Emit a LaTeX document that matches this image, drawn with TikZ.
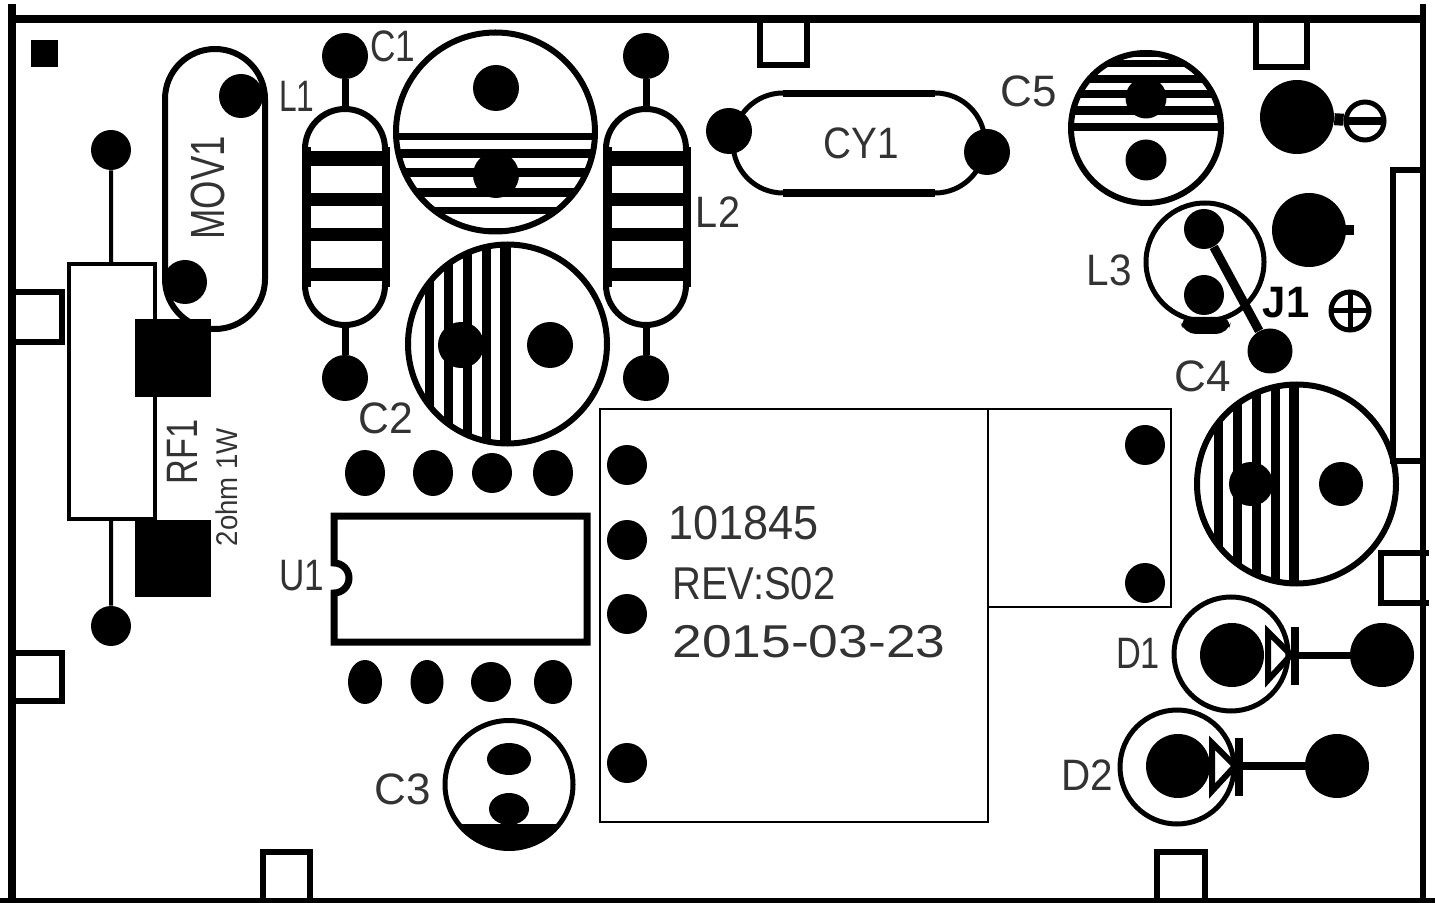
\documentclass[tikz,border=0pt]{standalone}
\usepackage{fontspec}
\setmainfont{Liberation Sans}
\usetikzlibrary{shapes.geometric}
\tikzset{
  pad/.style={circle,fill=black,inner sep=0pt,minimum size=#1 pt},
  oval/.style 2 args={ellipse,fill=black,inner sep=0pt,minimum width=#1 pt,minimum height=#2 pt},
  ring/.style 2 args={circle,draw=black,line width=#2*0.5pt,inner sep=0pt,minimum size=#1 pt},
  stadium/.style n args={4}{rectangle,draw=black,line width=#4*0.5pt,inner sep=0pt,rounded corners=#3 pt,minimum width=#1 pt,minimum height=#2 pt},
  lab/.style n args={2}{font=\fontsize{#1}{#1}\selectfont,xscale=#2,transform shape,inner sep=0pt,text=black!80},
  wall/.style={draw=black,line width=3.4pt,line join=miter},
  lead/.style={draw=black,line width=#1*0.5pt},
  thinbox/.style={draw=black,line width=1pt,inner sep=0pt},
}
\begin{document}
\begin{tikzpicture}[x=0.5pt,y=-0.5pt]
\useasboundingbox (0,0) rectangle (1435,903);
% frame
\fill (8,15) rectangle (1426,23);
\fill (8,4) rectangle (16,903);
\fill (1420,4) rectangle (1426,903);
\fill (0,898) rectangle (1435,903);
% tabs
\draw[wall] (760,23) -- (760,65) -- (807,65) -- (807,23);
\draw[wall] (1256,23) -- (1256,67) -- (1307,67) -- (1307,23);
\draw[wall] (16,292) -- (62,292) -- (62,342) -- (16,342);
\draw[wall] (16,653) -- (62,653) -- (62,701) -- (16,701);
\draw[wall] (263,898) -- (263,852) -- (310,852) -- (310,898);
\draw[wall] (1157,898) -- (1157,852) -- (1205,852) -- (1205,898);
\draw[wall] (1420,170) -- (1393,170) -- (1393,461) -- (1420,461);
\draw[wall] (1429,553) -- (1381,553) -- (1381,603) -- (1429,603);
% corner mark
\node[rectangle,fill=black,inner sep=0pt,minimum size=13.5pt] (mark) at (44.5,54) {};
% MOV1
\node[stadium={50}{140}{25}{6}] (mov) at (215,189) {};
\node[pad=22] (movA) at (241,96) {};
\node[pad=22] (movB) at (185,282) {};
\node[rotate=90,lab={24}{0.76}] (movT) at (208,188) {MOV1};
% RF1
\node[pad=20] (rfA) at (111,150) {};
\node[pad=20] (rfB) at (111,626) {};
\node[rectangle,draw=black,line width=2pt,fill=white,inner sep=0pt,minimum width=43pt,minimum height=127pt] (rf) at (111.5,391.5) {};
\draw[lead=4] (rfA) -- (rf);
\draw[lead=4] (rfB) -- (rf);
\node[rectangle,fill=black,inner sep=0pt,minimum width=38pt,minimum height=39pt] (rfP1) at (173,358) {};
\node[rectangle,fill=black,inner sep=0pt,minimum width=38pt,minimum height=38.5pt] (rfP2) at (173,558.5) {};
\node[rotate=90,lab={22}{0.78}] (rfT) at (182,452) {RF1};
\node[rotate=90,lab={15}{0.92}] (rfV) at (227,487) {2ohm 1W};
% L1, L2
\foreach \n/\x in {la/345,lb/646}{
  \node[pad=23] (\n A) at (\x,56) {};
  \node[pad=23] (\n B) at (\x,378) {};
  \node[stadium={40}{108}{20}{6}] (\n) at (\x,217) {};
  \draw[lead=7] (\n A) -- (\n);
  \draw[lead=7] (\n B) -- (\n);
  \fill (\x-43,147) rectangle (\x-34,287);
  \fill (\x+37,147) rectangle (\x+45,287);
  \fill (\x-43,151) rectangle (\x+45,166);
  \fill (\x-43,193) rectangle (\x+45,206);
  \fill (\x-43,228) rectangle (\x+45,241);
  \fill (\x-43,268) rectangle (\x+45,281);
}
\node[lab={22}{0.72}] (lat) at (297,96) {L1};
\node[lab={22}{0.9}] (lbt) at (718,212) {L2};
% C1
\begin{scope}
\clip (495,132) circle [radius=100];
\fill (380,133) rectangle (610,140);
\fill (380,149) rectangle (610,158);
\fill (380,168) rectangle (610,177);
\fill (380,188) rectangle (610,197);
\fill (380,207) rectangle (610,214);
\fill (380,228) rectangle (610,240);
\end{scope}
\node[ring={99.5}{6}] (c1) at (495.5,132) {};
\node[pad=23] (c1A) at (496,88) {};
\node[pad=23] (c1B) at (496,175) {};
\node[lab={22}{0.8}] (c1t) at (393,46) {C1};
% C2
\begin{scope}
\clip (507,344) circle [radius=100];
\foreach \d in {-78,-59,-40,-21}{\fill (507+\d-4,230) rectangle (507+\d+5,460);}
\fill (500,230) rectangle (511,460);
\end{scope}
\node[ring={99.5}{6}] (c2) at (507.5,344) {};
\node[pad=23] (c2A) at (461,345) {};
\node[pad=23] (c2B) at (550,345) {};
\node[lab={22}{0.97}] (c2t) at (386,418) {C2};
% C4
\begin{scope}
\clip (1296,484) circle [radius=100];
\foreach \d in {-78,-59,-40,-21}{\fill (1296+\d-4,370) rectangle (1296+\d+5,600);}
\fill (1289,370) rectangle (1299,600);
\end{scope}
\node[ring={99.5}{6}] (c4) at (1296.5,484) {};
\node[pad=22] (c4A) at (1251,484) {};
\node[pad=22] (c4B) at (1341,484) {};
\node[lab={22}{1}] (c4t) at (1203,376) {C4};
% C5
\begin{scope}
\clip (1146,128) circle [radius=76];
\fill (1060,123) rectangle (1230,131);
\fill (1060,106) rectangle (1230,115);
\fill (1060,90) rectangle (1230,98);
\fill (1060,75) rectangle (1230,83);
\fill (1060,60) rectangle (1230,67);
\fill (1060,45) rectangle (1230,57);
\end{scope}
\node[ring={75}{6}] (c5) at (1146,128) {};
\node[pad=20.5] (c5A) at (1146,98) {};
\node[pad=20.5] (c5B) at (1146,160) {};
\node[lab={22}{1}] (c5t) at (1029,91) {C5};
% CY1
\node[stadium={126}{50}{25}{5}] (cy) at (859,143) {};
\fill (783,90) rectangle (935,97);
\fill (783,189) rectangle (935,197);
\node[pad=23] (cyA) at (729,131) {};
\node[pad=23] (cyB) at (987,152) {};
\node[lab={22}{0.88}] (cyt) at (861,143) {CY1};
% terminals
\node[pad=37] (tm) at (1297,117) {};
\node[ring={19}{5}] (tmr) at (1365,121) {};
\draw[lead=12] (tm) -- (tmr);
\fill (1347,117) rectangle (1384,125);
\node[pad=37] (tp) at (1309,230) {};
\fill (1340,225) rectangle (1354,235);
\node[ring={19}{5}] (tpr) at (1350,311) {};
\draw[lead=5] (1329,311) -- (1371,311);
\draw[lead=5] (1350,290) -- (1350,332);
% L3
\node[ring={59}{5}] (l3) at (1205,262) {};
\node[pad=20] (l3A) at (1204,229) {};
\node[pad=20] (l3B) at (1204,295) {};
\node[pad=22.5] (l3C) at (1270,351) {};
\draw[lead=9] (l3A) -- (l3C);
\draw[fill=black,draw=none,rounded corners=6pt] (1179,317) -- (1232,317) -- (1228,334) -- (1184,334) -- cycle;
\node[lab={22}{0.92}] (l3t) at (1109,270) {L3};
\node[lab={22}{0.95},text=black] (j1t) at (1286,303) {\bfseries J1};
% U1
\draw[draw=black,line width=3.5pt,line join=miter] (334,516) -- (587,516) -- (587,642) -- (334,642) -- (334,593) arc[start angle=90,end angle=-90,radius=15] -- cycle;
\node[lab={22}{0.8}] (u1t) at (302,576) {U1};
\node[oval={20}{23}] (p1) at (365,473) {};
\node[oval={20}{23}] (p2) at (433,473) {};
\node[oval={20}{20}] (p3) at (492,473) {};
\node[oval={20}{23}] (p4) at (553,473) {};
\node[oval={17}{22}] (p5) at (365,682) {};
\node[oval={16.5}{22}] (p6) at (427,682) {};
\node[oval={20}{20}] (p7) at (491,682) {};
\node[oval={19}{22}] (p8) at (553,682) {};
% C3
\begin{scope}
\clip (509,784) circle [radius=66];
\fill (430,824) rectangle (590,860);
\end{scope}
\node[ring={64}{5}] (c3) at (509,784.5) {};
\node[oval={22}{16}] (c3A) at (509,759) {};
\node[oval={20}{16}] (c3B) at (509,809) {};
\draw[lead=14] (c3B) -- (509,826);
\node[lab={22}{1}] (c3t) at (403,789) {C3};
% relay
\node[rectangle,thinbox,minimum width=194pt,minimum height=206.5pt] (rel) at (794,615.5) {};
\node[rectangle,thinbox,minimum width=91.5pt,minimum height=99pt] (relb) at (1079.5,508) {};
\foreach \n/\x/\y in {r1/627/465,r2/627/540,r3/627/614,r4/627/763,r5/1145/445,r6/1145/583}{
  \node[pad=20] (\n) at (\x,\y) {};
}
\node[lab={24}{0.94},anchor=west] (t1) at (668,523) {101845};
\node[lab={23}{0.87},anchor=west] (t2) at (672,584) {REV:S02};
\node[lab={23}{1.16},anchor=west] (t3) at (672,642) {2015-03-23};
% D1
\node[pad=32] (d1A) at (1232,655) {};
\node[pad=32] (d1B) at (1382,655) {};
\coordinate (d1K) at (1295,655);
\draw[lead=7] (d1K) -- (d1B);
\draw[fill=white,draw=black,line width=3pt,line join=miter] (1268,632) -- (1291,655) -- (1268,680) -- cycle;
\fill (1291,627) rectangle (1299,685);
\node[ring={57}{5}] (d1) at (1231,654) {};
\node[lab={22}{0.78}] (d1t) at (1138,653) {D1};
% D2
\node[pad=32] (d2A) at (1178,766) {};
\node[pad=32] (d2B) at (1337,766) {};
\coordinate (d2K) at (1239,766);
\draw[lead=8] (d2K) -- (d2B);
\draw[fill=white,draw=black,line width=3pt,line join=miter] (1212,743) -- (1235,766) -- (1212,791) -- cycle;
\fill (1235,738) rectangle (1243,796);
\node[ring={57}{5}] (d2) at (1177,767) {};
\node[lab={22}{0.92}] (d2t) at (1087,775) {D2};
\end{tikzpicture}
\end{document}
